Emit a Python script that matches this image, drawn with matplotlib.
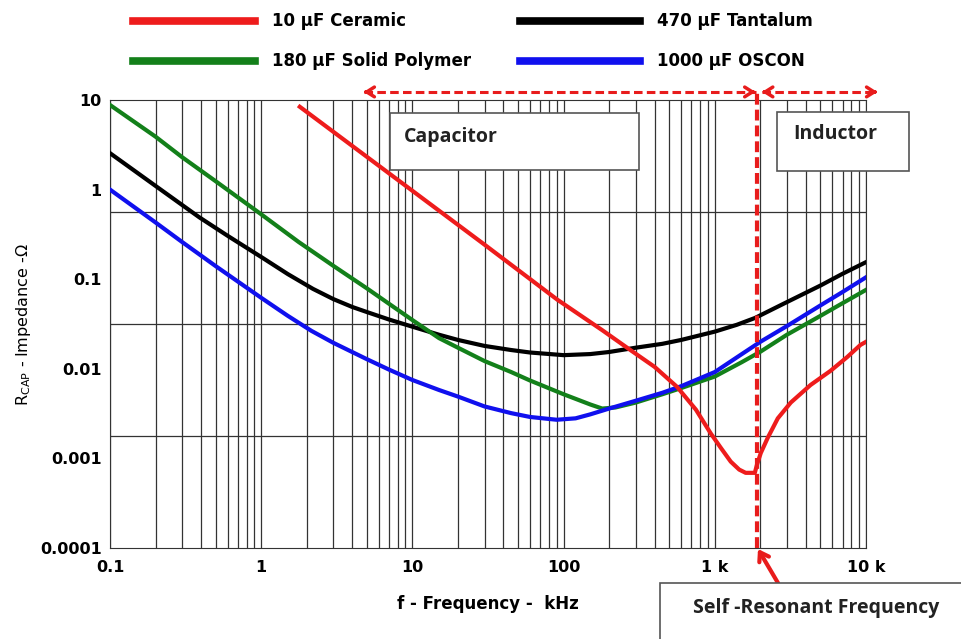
import matplotlib.pyplot as plt
from matplotlib.patches import Rectangle
from matplotlib.lines import Line2D
from matplotlib.ticker import LogLocator, NullFormatter, NullLocator

# impedance curves (frequency in kHz, impedance in ohm)
freq_ceramic = [1.8, 10, 30, 91, 180, 275, 400, 562, 750, 940, 1100, 1275, 1450, 1600, 1840,
                1900, 2015, 2240, 2610, 3180, 4300, 5830, 7500, 9200, 10000]
z_ceramic = [8.4, 0.97, 0.243, 0.059, 0.027, 0.0163, 0.0105, 0.0063, 0.0035, 0.0019, 0.0013,
             0.00092, 0.00075, 0.00069, 0.00069, 0.00085, 0.00115, 0.0017, 0.0028, 0.0042,
             0.0066, 0.0095, 0.0135, 0.0185, 0.02]

freq_tantalum = [0.1, 0.2, 0.39, 0.6, 1, 1.5, 2.2, 3, 4, 5, 7, 10, 15, 20, 30, 45, 60, 100, 150,
                 200, 300, 450, 600, 1000, 1400, 1850, 2900, 5000, 7000, 10000]
z_tantalum = [2.55, 1.1, 0.49, 0.305, 0.177, 0.114, 0.078, 0.060, 0.049, 0.043, 0.0355, 0.0295,
              0.024, 0.021, 0.018, 0.0162, 0.0152, 0.0142, 0.0146, 0.0154, 0.0172, 0.019, 0.021,
              0.026, 0.031, 0.037, 0.054, 0.085, 0.115, 0.155]

freq_polymer = [0.1, 0.2, 0.3, 0.5, 1, 1.77, 3, 5, 10, 15, 20, 30, 45, 60, 100, 150, 180, 220,
                300, 450, 600, 1000, 1500, 2000, 3000, 5000, 7000, 10000]
z_polymer = [8.8, 3.9, 2.3, 1.24, 0.53, 0.26, 0.141, 0.079, 0.035, 0.022, 0.0172, 0.0122,
             0.0092, 0.0074, 0.0052, 0.0040, 0.0036, 0.0037, 0.0042, 0.0052, 0.0061, 0.0082,
             0.0118, 0.0155, 0.024, 0.039, 0.054, 0.076]

freq_oscon = [0.1, 0.2, 0.3, 0.5, 1, 1.5, 2.15, 3, 5, 7, 10, 15, 20, 30, 45, 60, 90, 120, 150,
              200, 300, 450, 600, 1000, 1500, 2000, 3000, 5000, 7000, 10000]
z_oscon = [1.0, 0.43, 0.26, 0.14, 0.062, 0.039, 0.0265, 0.0195, 0.0128, 0.0098, 0.0075, 0.0058,
           0.0049, 0.0038, 0.0032, 0.0029, 0.0027, 0.0028, 0.0031, 0.0036, 0.0044, 0.0054,
           0.0064, 0.0092, 0.0145, 0.020, 0.030, 0.051, 0.072, 0.105]

series_labels = ["10 \u00b5F Ceramic", "470 \u00b5F Tantalum", "180 \u00b5F Solid Polymer", "1000 \u00b5F OSCON"]
series_colors = ["#ee1c1c", "black", "#13801a", "#1010ee"]

x_ticks = [0.1, 1, 10, 100, 1000, 10000]
x_ticklabels = ["0.1", "1", "10", "100", "1 k", "10 k"]
y_ticks = [1e-4, 1e-3, 1e-2, 1e-1, 1, 10]
y_ticklabels = ["0.0001", "0.001", "0.01", "0.1", "1", "10"]
h_grid = [10 ** -0.25, 10 ** -1.5, 10 ** -2.75]

srf_khz = 1900
cap_arrow = (4.75, 1860)
ind_arrow = (2050, 11900)

W, H = 961, 639


def fx(px):
    return px / W


def fy(py):
    return 1 - py / H


fig = plt.figure(figsize=(W / 100, H / 100), dpi=100)
ax = fig.add_axes([fx(110), fy(548), fx(866) - fx(110), fy(100) - fy(548)])
ax.set_xscale("log")
ax.set_yscale("log")
ax.set_xlim(0.1, 1e4)
ax.set_ylim(1e-4, 10)

ax.set_xticks(x_ticks)
ax.set_xticklabels(x_ticklabels)
ax.xaxis.set_minor_locator(LogLocator(base=10, subs=range(2, 10)))
ax.xaxis.set_minor_formatter(NullFormatter())
ax.set_yticks(y_ticks)
ax.set_yticklabels(y_ticklabels)
ax.yaxis.set_minor_locator(NullLocator())
ax.tick_params(which="both", length=0)
ax.tick_params(axis="x", pad=9)
ax.tick_params(axis="y", pad=6)
for t in ax.get_xticklabels() + ax.get_yticklabels():
    t.set_fontweight("bold")
    t.set_fontsize(11.5)

ax.grid(True, axis="x", which="both", color="#333333", lw=0.9)
for g in h_grid:
    ax.axhline(g, color="#333333", lw=0.9)
for s in ax.spines.values():
    s.set_color("#333333")

curves = [(freq_ceramic, z_ceramic), (freq_tantalum, z_tantalum),
          (freq_polymer, z_polymer), (freq_oscon, z_oscon)]
for i in [1, 2, 3, 0]:
    f, z = curves[i]
    ax.plot(f, z, color=series_colors[i], lw=3, zorder=3, solid_joinstyle="round")

ax.set_xlabel("f - Frequency -  kHz", fontsize=12, fontweight="bold", labelpad=14)
fig.text(fx(24), fy(325), "R$_\\mathregular{CAP}$ - Impedance -\u03a9", rotation=90,
         ha="center", va="center", fontsize=11.5)

# legend drawn by hand in two rows
leg_pos = [(133, 255, 272, 21), (520, 640, 657, 21), (133, 255, 272, 61), (520, 640, 657, 61)]
for (x0, x1, tx, y), lab, col in zip(leg_pos, series_labels, series_colors):
    fig.add_artist(Line2D([fx(x0), fx(x1)], [fy(y), fy(y)], color=col, lw=5.5))
    fig.text(fx(tx), fy(y), lab, ha="left", va="center", fontsize=12, fontweight="bold")

# self-resonant frequency marker and region arrows
red = "#e81c1c"
xt = ax.get_xaxis_transform()
ax.plot([srf_khz, srf_khz], [0, 1.018], transform=xt, clip_on=False,
        color=red, lw=3, dashes=(2.6, 1.2), zorder=4)
for a, b in [cap_arrow, ind_arrow]:
    ax.plot([a, b], [1.018, 1.018], transform=xt, clip_on=False,
            color=red, lw=2.2, dashes=(2.8, 1.4), zorder=4)
    for tip, inner in [(a, a * 1.05), (b, b / 1.05)]:
        ax.annotate("", xy=(tip, 1.018), xytext=(inner, 1.018), xycoords=xt, textcoords=xt,
                    annotation_clip=False,
                    arrowprops=dict(arrowstyle="->,head_length=0.55,head_width=0.35",
                                    color=red, lw=2.5, shrinkA=0, shrinkB=0))


# label boxes
def label_box(x0, y0, x1, y1, text, tx, ty, ha="left"):
    fig.add_artist(Rectangle((fx(x0), fy(y1)), fx(x1) - fx(x0), fy(y0) - fy(y1),
                             transform=fig.transFigure, facecolor="white",
                             edgecolor="#555555", lw=1.2, zorder=5))
    fig.text(fx(tx), fy(ty), text, ha=ha, va="center", fontsize=14,
             fontweight="bold", family="Open Sans", color="#222222", zorder=6)


label_box(390, 113, 639, 170, "Capacitor", 404, 137)
label_box(777, 112, 909, 171, "Inductor", 793, 134)
label_box(660, 583, 975, 650, "Self -Resonant Frequency", 816, 608, ha="center")

ax.annotate("", xy=(758, H - 549), xytext=(778, H - 583), xycoords="figure pixels",
            textcoords="figure pixels", annotation_clip=False,
            arrowprops=dict(arrowstyle="->,head_length=0.6,head_width=0.4",
                            color=red, lw=3, shrinkA=0, shrinkB=0))

fig.savefig("out.png", dpi=100, facecolor="white")
